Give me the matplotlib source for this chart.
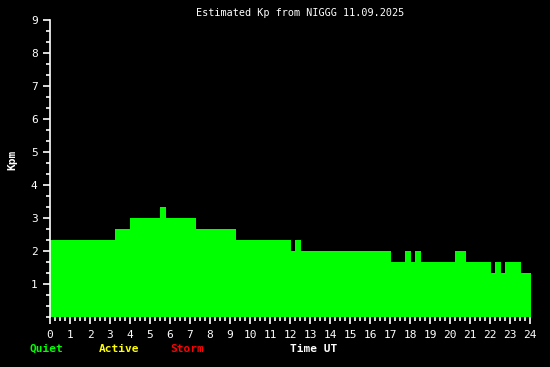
import numpy as np
import matplotlib
matplotlib.use("Agg")
import matplotlib.pyplot as plt
from matplotlib.ticker import MultipleLocator

# Kp step edges (hours UT) and values
edges = [0.0, 3.25, 4.0, 5.5, 5.8, 7.3, 9.3, 12.05, 12.25, 12.55, 17.05,
         17.75, 18.05, 18.25, 18.55, 20.25, 20.8, 22.05, 22.25, 22.55,
         22.75, 23.55, 24.05]
kp = [7/3, 8/3, 3.0, 10/3, 3.0, 8/3, 7/3, 2.0, 7/3, 2.0, 5/3,
      2.0, 5/3, 2.0, 5/3, 2.0, 5/3, 4/3, 5/3, 4/3, 5/3, 4/3]

hours = list(range(25))
kp_ticks = list(range(1, 10))

title = "Estimated Kp from NIGGG 11.09.2025"
legend_items = [("Quiet", "#00ff00"), ("Active", "#ffff00"), ("Storm", "#ff0000")]

mono = "DejaVu Sans Mono"
fig = plt.figure(figsize=(5.5, 3.67), dpi=100, facecolor="black")
ax = fig.add_axes([50/550, 50/367, 480/550, 297/367], facecolor="black")

# last bar runs a little past 24h in the original, so don't clip it
ax.stairs(kp, edges, fill=True, color="#00ff00", baseline=0, zorder=2,
          clip_on=False)

ax.set_xlim(0, 24)
ax.set_ylim(0, 9)
ax.set_xticks(hours)
ax.set_xticklabels([str(h) for h in hours])
ax.set_yticks(kp_ticks)
ax.set_yticklabels([str(k) for k in kp_ticks])
ax.xaxis.set_minor_locator(MultipleLocator(0.25))
ax.yaxis.set_minor_locator(MultipleLocator(1/3))

for s in ["top", "right", "bottom"]:
    ax.spines[s].set_visible(False)
ax.spines["left"].set_color("white")
ax.spines["left"].set_linewidth(1.2)

ax.tick_params(which="major", colors="white", length=5, width=1.2,
               labelsize=8, pad=4)
ax.tick_params(which="minor", colors="white", length=3, width=1.2)
for lab in ax.get_xticklabels() + ax.get_yticklabels():
    lab.set_family(mono)

fig.text(300/550, 1 - 12.5/367, title, color="white", family=mono,
         fontsize=7.3, ha="center", va="center")
fig.text(12/550, 1 - 160/367, "Kpm", color="white", family=mono,
         fontsize=8, fontweight="bold", rotation=90, ha="center", va="center")

xs = [29, 99, 170]
for (name, col), x in zip(legend_items, xs):
    fig.text(x/550, 1 - 349/367, name, color=col, family=mono,
             fontsize=8, fontweight="bold", ha="left", va="center")
fig.text(290/550, 1 - 349/367, "Time UT", color="white", family=mono,
         fontsize=8, fontweight="bold", ha="left", va="center")

fig.savefig("out.png", dpi=100, facecolor="black")
